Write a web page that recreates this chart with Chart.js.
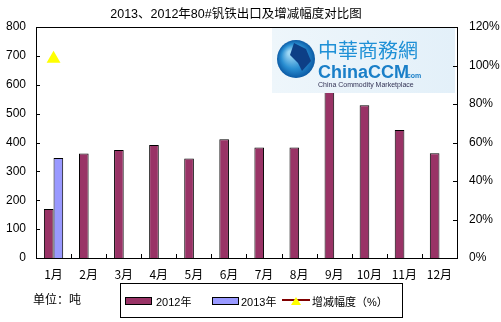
<!DOCTYPE html>
<html>
<head>
<meta charset="utf-8">
<script src="https://cdn.jsdelivr.net/npm/chart.js@4"></script>
<style>
  body { margin: 0; background: #fff; }
  #wrap { position: relative; width: 501px; height: 322px; font-family: "Liberation Sans", "Noto Sans CJK SC", sans-serif; }
  #title { position: absolute; left: 0; width: 472px; top: 3px; text-align: center; font-size: 12.5px; color: #000; }
  #unit { position: absolute; left: 33px; top: 290px; font-size: 12px; font-family: "Noto Sans CJK SC", sans-serif; }
  #legend { position: absolute; left: 120px; top: 283px; width: 281px; height: 33px; border: 1px solid #000; font-size: 11px; }
  .sw { position: absolute; top: 13px; width: 25px; height: 6px; border: 1px solid #000; }
  .lt { position: absolute; top: 9px; }
</style>
</head>
<body>
<div id="wrap">
  <canvas id="chart" width="501" height="322"></canvas>
  <div id="title">2013、2012年80#钒铁出口及增减幅度对比图</div>
  <div id="unit">单位：吨</div>
  <div id="legend">
    <div class="sw" style="left:4px;background:#993366"></div>
    <div class="lt" style="left:35px">2012年</div>
    <div class="sw" style="left:91px;background:#9999ff"></div>
    <div class="lt" style="left:120px">2013年</div>
    <canvas id="lgLine" width="28" height="14" style="position:absolute;left:161px;top:10px"></canvas>
    <div class="lt" style="left:191px">增减幅度（%）</div>
  </div>
</div>
<script>
const months = ['1月', '2月', '3月', '4月', '5月', '6月', '7月', '8月', '9月', '10月', '11月', '12月']
const export2012 = [170, 362, 374, 391, 345, 411, 383, 383, 575, 529, 443, 363]
const export2013 = [346, null, null, null, null, null, null, null, null, null, null, null]
const changePct = [103.5, null, null, null, null, null, null, null, null, null, null, null]

// legend line sample
const lg = document.getElementById('lgLine').getContext('2d')
lg.strokeStyle = '#800000'
lg.lineWidth = 2
lg.beginPath(); lg.moveTo(0, 6); lg.lineTo(28, 6); lg.stroke()
lg.fillStyle = '#ffff00'
lg.beginPath(); lg.moveTo(14, 3); lg.lineTo(19, 11); lg.lineTo(9, 11); lg.closePath(); lg.fill()

// box around plot, inside tick marks and the ChinaCCM watermark
const framePlugin = {
    id: 'frame',
    afterDatasetsDraw(chart) {
        const ctx = chart.ctx
        const a = chart.chartArea
        const y = chart.scales.y
        const y1 = chart.scales.y1
        const x = chart.scales.x

        // watermark
        const wl = a.right - 185, wt = a.top + 1, ww = 183, wh = 65
        ctx.save()
        let g = ctx.createLinearGradient(wl, 0, wl + ww, 0)
        g.addColorStop(0, '#eef6fb')
        g.addColorStop(1, '#e3f0f9')
        ctx.fillStyle = g
        ctx.fillRect(wl, wt, ww, wh)
        const gx = wl + 24, gy = wt + 31
        let rg = ctx.createRadialGradient(gx - 6, gy - 6, 2, gx, gy, 19)
        rg.addColorStop(0, '#9fd8f5')
        rg.addColorStop(0.6, '#2a8fd2')
        rg.addColorStop(1, '#0b5aa5')
        ctx.fillStyle = rg
        ctx.beginPath(); ctx.arc(gx, gy, 19, 0, Math.PI * 2); ctx.fill()
        ctx.fillStyle = '#0d3f86'
        ctx.beginPath()
        ctx.moveTo(gx - 2, gy - 16); ctx.lineTo(gx + 10, gy - 10); ctx.lineTo(gx + 15, gy + 2)
        ctx.lineTo(gx + 6, gy + 12); ctx.lineTo(gx + 2, gy + 4); ctx.lineTo(gx - 6, gy - 4)
        ctx.closePath(); ctx.fill()
        ctx.fillStyle = '#1e90d6'
        ctx.font = '20px "Noto Sans CJK TC"'
        ctx.textBaseline = 'alphabetic'
        ctx.fillText('中華商務網', wl + 46, wt + 30)
        ctx.font = 'bold 18px "Liberation Sans"'
        ctx.fillStyle = '#1a7fc8'
        ctx.fillText('ChinaCCM', wl + 46, wt + 50)
        ctx.font = 'bold 7px "Liberation Sans"'
        ctx.fillText('.com', wl + 133, wt + 50)
        ctx.font = '7px "Liberation Sans"'
        ctx.fillStyle = '#335'
        ctx.fillText('China Commodity Marketplace', wl + 46, wt + 59)

        // frame
        ctx.strokeStyle = '#000'
        ctx.lineWidth = 1
        ctx.strokeRect(Math.round(a.left) + 0.5, Math.round(a.top) + 0.5, Math.round(a.right - a.left), Math.round(a.bottom - a.top))

        // inside ticks
        ctx.beginPath()
        y.ticks.forEach(t => {
            const py = Math.round(y.getPixelForValue(t.value)) + 0.5
            ctx.moveTo(a.left, py); ctx.lineTo(a.left + 4, py)
        })
        y1.ticks.forEach(t => {
            const py = Math.round(y1.getPixelForValue(t.value)) + 0.5
            ctx.moveTo(a.right - 4, py); ctx.lineTo(a.right, py)
        })
        for (let i = 1; i < months.length; i++) {
            const px = Math.round((x.getPixelForValue(i - 1) + x.getPixelForValue(i)) / 2) + 0.5
            ctx.moveTo(px, a.bottom); ctx.lineTo(px, a.bottom - 4)
        }
        ctx.stroke()
        ctx.restore()
    }
}

const chart = new Chart(document.getElementById('chart'), {
    data: {
        labels: months,
        datasets: [{
            type: 'line',
            label: '增减幅度（%）',
            data: changePct,
            yAxisID: 'y1',
            borderColor: '#800000',
            borderWidth: 2,
            pointStyle: 'triangle',
            pointRadius: 6,
            pointBackgroundColor: '#ffff00',
            pointBorderColor: '#ffff00',
            order: 0
        }, {
            type: 'bar',
            label: '2012年',
            data: export2012,
            backgroundColor: '#993366',
            borderColor: '#000',
            borderWidth: 1,
            categoryPercentage: 0.55,
            barPercentage: 1,
            order: 1
        }, {
            type: 'bar',
            label: '2013年',
            data: export2013,
            backgroundColor: '#9999ff',
            borderColor: '#000',
            borderWidth: 1,
            categoryPercentage: 0.55,
            barPercentage: 1,
            order: 1
        }]
    },
    options: {
        responsive: false,
        animation: false,
        layout: { padding: { top: 27, left: 0, right: 0, bottom: 0 } },
        plugins: {
            legend: { display: false },
            tooltip: { enabled: false }
        },
        scales: {
            x: {
                grid: { display: false, drawTicks: false },
                border: { display: false },
                ticks: { color: '#000', padding: 9, font: { family: '"Noto Sans CJK SC"', size: 12 } },
                afterFit: s => { s.height = 64 }
            },
            y: {
                position: 'left',
                min: 0,
                max: 800,
                grid: { display: false, drawTicks: false },
                border: { display: false },
                ticks: { stepSize: 100, color: '#000', padding: 10, font: { family: '"Liberation Sans"', size: 12 } },
                afterFit: s => { s.width = 36 }
            },
            y1: {
                position: 'right',
                min: 0,
                max: 120,
                grid: { display: false, drawTicks: false },
                border: { display: false },
                ticks: { stepSize: 20, color: '#000', padding: 12, callback: v => v + '%', font: { family: '"Liberation Sans"', size: 12 } },
                afterFit: s => { s.width = 44 }
            }
        }
    },
    plugins: [framePlugin]
})
</script>
</body>
</html>
